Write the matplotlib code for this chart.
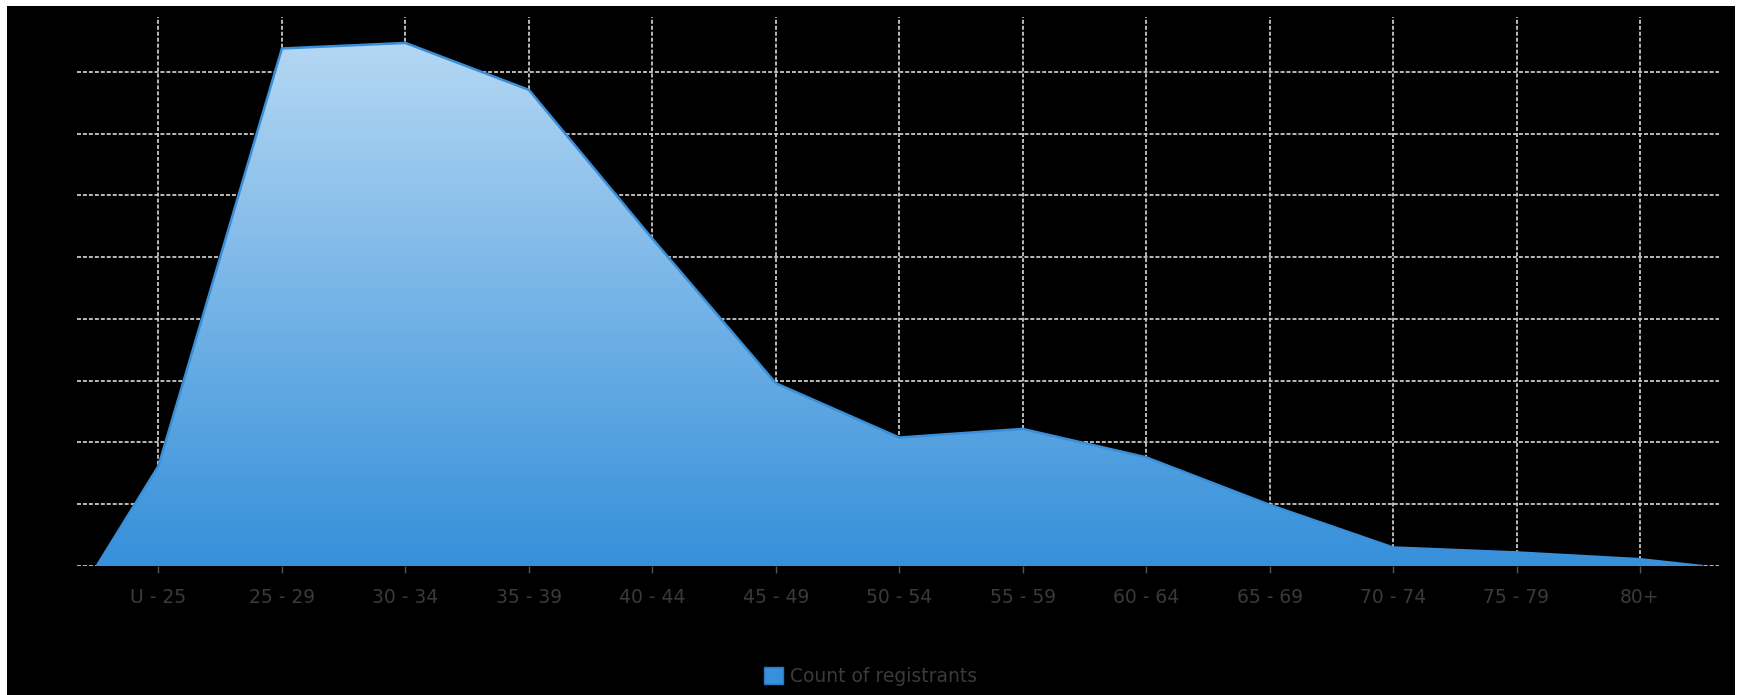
import numpy as np
import matplotlib.pyplot as plt
from matplotlib.patches import Rectangle
from matplotlib.colors import LinearSegmentedColormap

age_groups = ['U - 25', '25 - 29', '30 - 34', '35 - 39', '40 - 44', '45 - 49', '50 - 54',
              '55 - 59', '60 - 64', '65 - 69', '70 - 74', '75 - 79', '80+']
registrants = [162, 838, 847, 771, 530, 296, 208, 222, 176, 99, 30, 22, 11]

fig = plt.figure(figsize=(17.41, 6.95), dpi=100, facecolor='white')
# black panel with a thin white margin on left, top and right
fig.patches.append(Rectangle((7 / 1741, 0), 1728 / 1741, 689 / 695,
                             transform=fig.transFigure, facecolor='black',
                             edgecolor='none', zorder=-10))

ax = fig.add_axes([77 / 1741, 129 / 695, 1642 / 1741, 549 / 695])
ax.set_facecolor('black')

x = np.arange(len(age_groups))
# area closes down to zero half a step outside the first and last group
xs = np.concatenate([[x[0] - 0.5], x, [x[-1] + 0.5]])
ys = np.concatenate([[0], registrants, [0]])

poly = ax.fill_between(xs, ys, 0, color='none', zorder=2)

# vertical gradient inside the area
cmap = LinearSegmentedColormap.from_list('blues', ['#3690da', '#b4d7f3'])
grad = np.linspace(0, 1, 256).reshape(-1, 1)
img = ax.imshow(grad, cmap=cmap, origin='lower', aspect='auto',
                extent=[xs[0], xs[-1], 0, max(registrants)], zorder=2)
img.set_clip_path(poly.get_paths()[0], transform=ax.transData)

ax.plot(xs, ys, color='#3a8fd9', linewidth=1.8, zorder=3)

ax.set_xlim(-0.66, 12.64)
ax.set_ylim(0, 889)
ax.set_xticks(x)
ax.set_xticklabels(age_groups)
ax.set_yticks(np.arange(0, 900, 100))

ax.grid(True, color='#c8c8c8', linestyle=(0, (2.2, 1.1)), linewidth=1.3, zorder=1)
ax.set_axisbelow(True)

ax.tick_params(axis='x', colors='#555555', labelcolor='#3a3a3a', length=5,
               width=1, pad=11, labelsize=13.5)
ax.tick_params(axis='y', length=0, labelleft=False)
for s in ax.spines.values():
    s.set_visible(False)

handle = Rectangle((0, 0), 1, 1, facecolor='#3690da', edgecolor='#2a78c0')
fig.legend([handle], ['Count of registrants'], loc='center', bbox_to_anchor=(0.5, 0.027),
           frameon=False, fontsize=13.5, labelcolor='#3a3a3a',
           handlelength=1.0, handleheight=1.0, handletextpad=0.4)

plt.savefig('out.png', dpi=100, facecolor=fig.get_facecolor())
